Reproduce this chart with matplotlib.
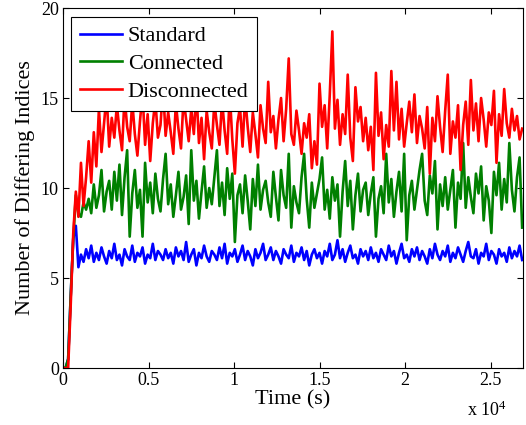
import numpy as np
import matplotlib
matplotlib.use('Agg')
import matplotlib.pyplot as plt

plt.rcParams['font.family'] = ['Liberation Serif', 'DejaVu Serif']
plt.rcParams['mathtext.fontset'] = 'custom'
plt.rcParams['mathtext.rm'] = 'Liberation Serif'

## Sampling interval of the simulation (s)
dt = 150

## Number of differing indices
standard = [
    0, 0, 0.5, 4.0, 7.2, 7.9, 5.6, 6.3, 5.9, 6.6,
    6.1, 6.8, 5.9, 6.4, 6.0, 6.7, 6.2, 5.8, 6.5, 6.1,
    6.9, 6.0, 6.3, 5.7, 6.6, 6.2, 6.0, 6.8, 5.9, 6.4,
    6.2, 6.7, 5.8, 6.3, 6.1, 6.9, 6.0, 6.5, 6.3, 6.0,
    6.6, 6.1, 6.4, 5.8, 6.7, 6.2, 6.5, 6.0, 7.0, 5.9,
    6.3, 6.6, 5.7, 6.4, 6.1, 6.8, 6.2, 5.9, 6.5, 6.3,
    6.0, 6.7, 6.1, 6.9, 5.8, 6.4, 6.2, 6.6, 5.9, 6.3,
    6.8, 6.0, 6.5, 6.2, 5.7, 6.6, 6.1, 6.4, 6.9, 6.0,
    6.3, 6.7, 6.0, 6.5, 6.2, 5.8, 6.6, 6.3, 6.1, 6.8,
    5.9, 6.4, 6.2, 6.7, 6.0, 6.5, 5.7, 6.3, 6.6, 6.1,
    6.4, 5.8, 6.5, 6.2, 6.9, 6.0, 6.3, 7.1, 6.1, 6.6,
    5.9, 6.4, 6.8, 6.1, 6.3, 5.8, 6.6, 6.2, 6.5, 6.0,
    6.7, 6.1, 6.4, 5.9, 6.6, 6.3, 6.0, 6.8, 6.2, 6.5,
    5.8, 6.4, 6.9, 6.1, 6.3, 5.9, 6.6, 6.2, 6.7, 6.0,
    6.5, 6.2, 5.8, 6.6, 6.1, 6.9, 6.3, 6.0, 6.5, 6.2,
    6.8, 5.9, 6.4, 6.1, 6.7, 6.3, 5.9, 6.5, 7.0, 6.2,
    6.1, 6.6, 5.8, 6.4, 6.2, 6.9, 6.0, 6.5, 6.3, 5.8,
    6.6, 6.2, 6.4, 5.9, 6.7, 6.1, 6.5, 6.2, 6.8, 6.0,
]

connected = [
    0, 0, 0.5, 4.0, 7.2, 9.6, 8.6, 8.4, 9.2, 8.8,
    9.4, 8.6, 10.2, 8.9, 9.6, 11.0, 8.7, 9.8, 10.4, 8.8,
    10.9, 9.3, 11.3, 8.5, 10.6, 12.1, 7.3, 9.7, 11.0, 8.9,
    9.9, 7.3, 11.4, 9.2, 10.3, 8.6, 10.8, 9.4, 8.7, 10.5,
    11.9, 9.1, 10.2, 8.4, 9.6, 10.9, 8.8, 9.5, 10.7, 8.0,
    12.1, 9.3, 10.4, 8.3, 9.8, 11.2, 8.9, 10.0, 9.1, 10.6,
    12.1, 9.0, 10.3, 8.5, 11.1, 9.4, 10.8, 7.0, 9.6, 10.2,
    8.6, 10.7, 9.3, 7.7, 10.5, 9.0, 11.3, 8.8, 9.9, 10.4,
    9.2, 8.4, 10.9, 9.5, 8.2, 11.0, 9.6, 8.9, 11.9, 7.8,
    10.1, 9.2, 8.6, 10.6, 11.9, 9.4, 7.8, 10.3, 8.9, 9.7,
    10.5, 11.7, 8.8, 9.9, 8.3, 10.6, 9.3, 10.2, 7.3, 9.8,
    11.5, 9.0, 10.4, 7.7, 9.6, 10.8, 8.7, 9.9, 10.3, 8.5,
    9.7, 10.6, 7.3, 9.4, 10.1, 8.6, 11.9, 9.2, 10.5, 8.4,
    9.8, 10.9, 8.7, 11.9, 7.1, 9.6, 10.4, 8.8, 9.9, 11.0,
    11.9, 9.3, 8.5, 10.7, 9.7, 11.5, 7.7, 10.2, 9.0, 10.6,
    8.8, 9.9, 11.0, 7.8, 10.3, 9.4, 12.5, 8.9, 10.6, 9.5,
    8.6, 10.8, 9.7, 11.2, 8.2, 10.1, 9.3, 7.5, 10.9, 9.6,
    11.4, 8.8, 10.5, 9.2, 12.5, 9.9, 8.7, 10.6, 11.7, 7.8,
]

disconnected = [
    0, 0, 0, 3.5, 7.5, 9.8, 8.4, 11.4, 9.0, 10.6,
    12.6, 10.3, 13.1, 11.2, 14.4, 12.0, 13.6, 15.2, 12.3, 13.9,
    12.8, 14.6, 13.2, 12.1, 15.1, 13.4, 12.6, 14.8, 13.0, 11.8,
    13.7, 15.3, 12.4, 14.1, 11.5, 13.6, 14.9, 12.8, 13.5, 15.6,
    12.9, 14.2, 13.1, 11.9, 14.7, 13.3, 12.2, 15.0, 13.8, 12.6,
    14.4, 13.0, 15.4, 12.5, 13.9, 11.6, 14.3, 13.1, 12.2, 14.8,
    13.5, 12.4, 14.9, 13.2, 11.9, 15.3, 12.7, 10.8, 13.6, 14.5,
    12.3, 15.1, 13.4, 12.0, 14.2, 13.0, 11.7, 14.6, 13.3, 12.5,
    15.9, 13.1, 14.0, 12.2, 13.8, 15.0, 12.6, 14.4, 17.2, 13.0,
    12.4, 14.3, 13.2, 11.9, 13.6, 12.8, 14.1, 11.1, 12.6, 11.3,
    15.8, 13.4, 14.6, 12.2, 15.2, 18.7, 13.3, 14.9, 12.4, 14.1,
    13.0, 16.3, 12.8, 11.5, 15.6, 13.7, 14.5, 12.6, 13.9, 12.1,
    13.4, 11.0, 16.4, 12.9, 14.2, 11.6, 13.5, 12.3, 16.5, 13.2,
    15.9, 12.7, 14.4, 12.3, 13.6, 14.8, 13.1, 15.2, 12.5, 14.0,
    13.3, 12.2, 14.5, 10.8, 13.9, 12.6, 15.1, 13.4, 12.0, 14.3,
    16.3, 11.9, 13.7, 12.8, 14.6, 11.0, 13.5, 14.8, 12.4, 16.0,
    13.2, 14.7, 12.6, 15.0, 13.8, 12.3, 14.2, 13.5, 15.4, 11.4,
    14.1, 12.9, 15.5, 13.6, 12.8, 14.4, 13.2, 14.0, 12.7, 13.3,
]

series = [('Standard', standard, 'b'),
          ('Connected', connected, '#008000'),
          ('Disconnected', disconnected, 'r')]

xticks = [0, 5000, 10000, 15000, 20000, 25000]
xticklabels = ['0', '0.5', '1', '1.5', '2', '2.5']
yticks = [0, 5, 10, 15, 20]

fig = plt.figure(figsize=(5.26, 4.25), dpi=100)
ax = fig.add_axes([0.1198, 0.1341, 0.8745, 0.847])

for name, vals, col in series:
    t = np.arange(len(vals)) * dt
    ax.plot(t, vals, color=col, lw=1.9, label=name)

ax.set_xlim(0, 26900)
ax.set_ylim(0, 20)
ax.set_xticks(xticks)
ax.set_xticklabels(xticklabels)
ax.set_yticks(yticks)
ax.tick_params(direction='in', top=True, right=True, length=4.5, width=0.8,
               labelsize=13, pad=3)
for s in ax.spines.values():
    s.set_linewidth(0.8)

ax.set_xlabel('Time (s)', fontsize=16, labelpad=1)
ax.set_ylabel('Number of Differing Indices', fontsize=16, labelpad=4)
fig.text(0.888, 0.02, r'x $\mathregular{10^{4}}$', fontsize=13, ha='left')

leg = ax.legend(loc='upper left', bbox_to_anchor=(0.0174, 0.975), borderaxespad=0,
                fontsize=16, fancybox=False, framealpha=1, edgecolor='k',
                handlelength=1.9, handletextpad=0.25, labelspacing=0.32,
                borderpad=0.4)
leg.get_frame().set_linewidth(0.8)

fig.savefig('out.png', dpi=100)
